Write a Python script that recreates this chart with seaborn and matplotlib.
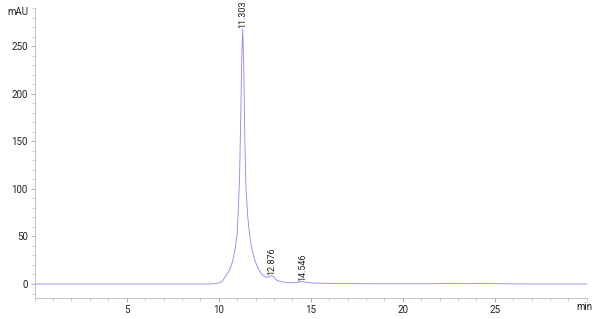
import numpy as np
import pandas as pd
import matplotlib
matplotlib.use("Agg")
import matplotlib.pyplot as plt
import seaborn as sns
from matplotlib.ticker import MultipleLocator

# Chromatogram trace (retention time in min, signal in mAU)
time_min = [0.0, 5.0, 9.0, 9.7, 10.0, 10.2, 10.4, 10.6, 10.77, 10.9, 11.0, 11.07,
            11.13, 11.2, 11.25, 11.303, 11.36, 11.42, 11.48, 11.58, 11.69, 11.8,
            11.96, 12.15, 12.35, 12.55, 12.7, 12.876, 13.0, 13.15, 13.35, 13.7,
            14.0, 14.3, 14.546, 14.75, 15.1, 16.0, 18.0, 20.0, 21.5, 22.5, 23.5,
            24.5, 25.5, 27.0, 30.0]
signal_mau = [0.0, 0.0, 0.0, 0.1, 1.0, 3.0, 9.0, 15.0, 25.0, 38.0, 52.0, 80.0,
              110.0, 180.0, 235.0, 268.0, 230.0, 150.0, 100.0, 70.0, 50.0, 37.0,
              25.0, 16.0, 10.0, 7.0, 7.5, 9.0, 7.5, 4.0, 2.5, 1.5,
              1.2, 1.8, 2.7, 1.8, 1.0, 0.6, 0.3, 0.2, 0.2, 0.7, 0.3,
              0.7, 0.2, 0.0, 0.0]

peak_times = [11.303, 12.876, 14.546]
peak_heights = [268.0, 9.0, 2.7]
peak_labels = ["11.303", "12.876", "14.546"]

df = pd.DataFrame({"time": time_min, "signal": signal_mau})

sns.set_style("white")
plt.rcParams["font.family"] = ["Roboto", "DejaVu Sans"]

fig = plt.figure(figsize=(6.0, 3.19), dpi=100)
ax = fig.add_axes([0.0578, 0.0668, 0.9202, 0.908])

sns.lineplot(data=df, x="time", y="signal", ax=ax, color="#8e8ef5",
             linewidth=0.65, estimator=None, sort=False)

for t, h, lab in zip(peak_times, peak_heights, peak_labels):
    ax.annotate(lab, xy=(t, h), xytext=(0, 0.4), textcoords="offset points",
                rotation=90, ha="center", va="bottom", fontsize=6.5,
                color="#222222", annotation_clip=False)

ax.set_xlim(0, 30)
ax.set_ylim(-14.4, 290)
ax.xaxis.set_minor_locator(MultipleLocator(1))
ax.yaxis.set_minor_locator(MultipleLocator(10))
ax.set_xticks([5, 10, 15, 20, 25])
ax.set_yticks([0, 50, 100, 150, 200, 250])

ax.set_xlabel("")
ax.set_ylabel("")
for s in ["top", "right"]:
    ax.spines[s].set_visible(False)
for s in ["left", "bottom"]:
    ax.spines[s].set_color("#b8b8b8")
    ax.spines[s].set_linewidth(0.6)

ax.tick_params(axis="both", which="major", direction="out", length=3,
               width=0.6, color="#a0a0a0", labelsize=7, labelcolor="#222222",
               pad=2)
ax.tick_params(axis="both", which="minor", direction="out", length=2,
               width=0.5, color="#b8b8b8")
ax.tick_params(axis="x", bottom=True, which="both")
ax.tick_params(axis="y", left=True, which="both")

fig.text(28 / 600, 1 - 12 / 319, "mAU", ha="right", va="center",
         fontsize=7, color="#222222")
fig.text(584 / 600, 1 - 307 / 319, "min", ha="center", va="center",
         fontsize=7, color="#222222")

fig.savefig("out.png", dpi=100)
